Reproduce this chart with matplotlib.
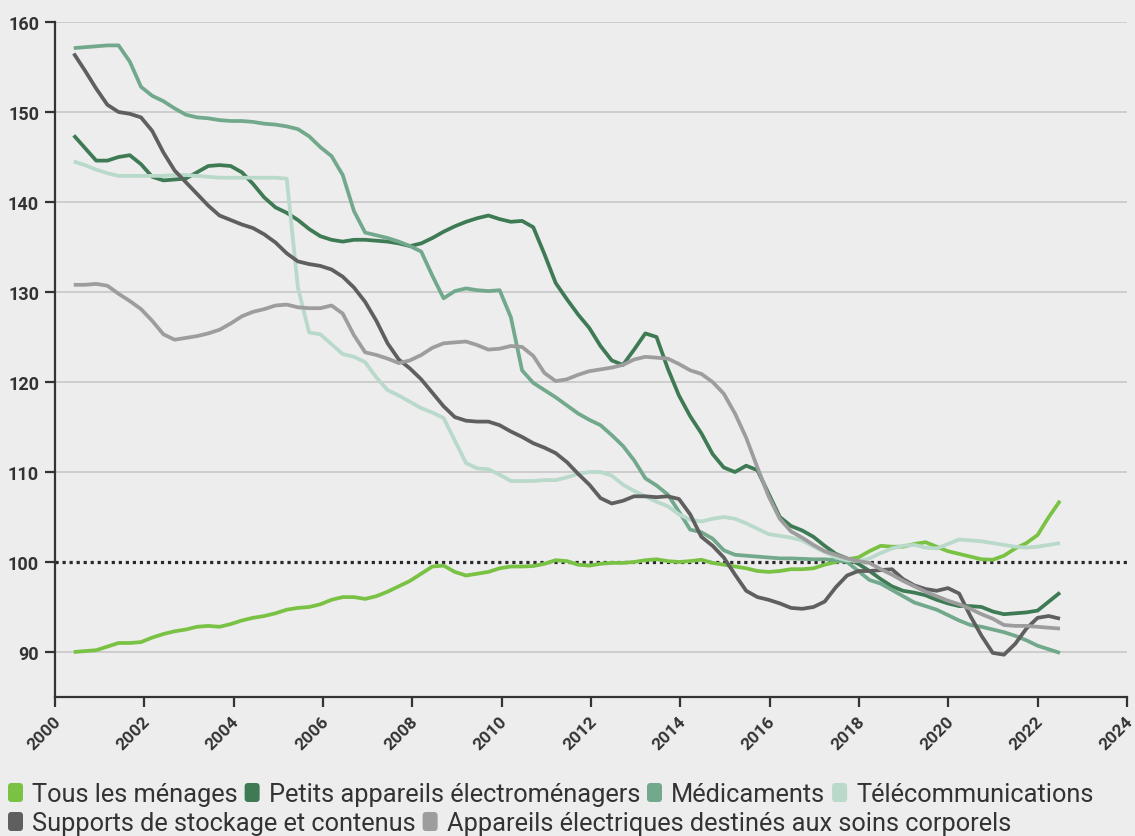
import numpy as np
import matplotlib
matplotlib.use("Agg")
import matplotlib.pyplot as plt
from matplotlib.patches import FancyBboxPatch
from matplotlib.transforms import IdentityTransform, ScaledTranslation

# ---------------- data (quarterly, mid-2000 .. mid-2022) ----------------
years = np.linspace(2000.42, 2022.5, 89)

tous_menages = [
    90.0, 90.1, 90.2, 90.6, 91.0, 91.0, 91.1, 91.6, 92.0, 92.3,
    92.5, 92.8, 92.9, 92.8, 93.1, 93.5, 93.8, 94.0, 94.3, 94.7,
    94.9, 95.0, 95.3, 95.8, 96.1, 96.1, 95.9, 96.2, 96.7, 97.3,
    97.9, 98.7, 99.5, 99.6, 98.9, 98.5, 98.7, 98.9, 99.3, 99.5,
    99.5, 99.55, 99.8, 100.2, 100.1, 99.7, 99.6, 99.8, 99.9, 99.9,
    100.0, 100.2, 100.3, 100.1, 100.0, 100.1, 100.25, 99.9, 99.7, 99.5,
    99.3, 99.0, 98.9, 99.0, 99.2, 99.2, 99.3, 99.7, 100.0, 100.3,
    100.5, 101.2, 101.8, 101.7, 101.7, 102.0, 102.2, 101.7, 101.2, 100.9,
    100.6, 100.3, 100.25, 100.7, 101.5, 102.1, 103.0, 105.0, 106.8]

petits_appareils = [
    147.4, 146.0, 144.6, 144.6, 145.0, 145.2, 144.2, 142.8, 142.4, 142.5,
    142.6, 143.3, 144.0, 144.1, 144.0, 143.3, 142.0, 140.5, 139.4, 138.8,
    138.0, 137.0, 136.2, 135.8, 135.6, 135.8, 135.8, 135.7, 135.6, 135.4,
    135.1, 135.4, 136.0, 136.7, 137.3, 137.8, 138.2, 138.5, 138.1, 137.8,
    137.9, 137.2, 134.2, 131.0, 129.2, 127.5, 126.0, 124.0, 122.4, 121.9,
    123.6, 125.4, 125.0, 121.5, 118.5, 116.2, 114.3, 112.0, 110.5, 110.0,
    110.7, 110.2, 107.6, 105.0, 104.0, 103.5, 102.8, 101.8, 100.9, 100.4,
    99.8, 99.0, 98.1, 97.3, 96.8, 96.6, 96.3, 95.8, 95.4, 95.1,
    95.1, 95.0, 94.5, 94.2, 94.3, 94.4, 94.6, 95.6, 96.6]

medicaments = [
    157.1, 157.2, 157.3, 157.4, 157.4, 155.6, 152.8, 151.8, 151.2, 150.4,
    149.7, 149.4, 149.3, 149.1, 149.0, 149.0, 148.9, 148.7, 148.6, 148.4,
    148.1, 147.3, 146.1, 145.1, 143.0, 139.0, 136.6, 136.3, 136.0, 135.6,
    135.1, 134.5, 131.8, 129.3, 130.1, 130.4, 130.2, 130.1, 130.2, 127.2,
    121.3, 119.9, 119.1, 118.3, 117.4, 116.5, 115.8, 115.2, 114.1, 112.9,
    111.3, 109.3, 108.5, 107.5, 105.6, 103.6, 103.3, 102.6, 101.3, 100.8,
    100.7, 100.6, 100.5, 100.4, 100.4, 100.35, 100.3, 100.3, 100.2, 100.0,
    99.0, 98.0, 97.6, 96.9, 96.2, 95.5, 95.1, 94.7, 94.1, 93.5,
    93.0, 92.8, 92.5, 92.2, 91.8, 91.3, 90.7, 90.3, 89.9]

telecommunications = [
    144.5, 144.1, 143.6, 143.2, 142.9, 142.9, 142.9, 142.9, 142.9, 143.0,
    143.0, 142.9, 142.8, 142.7, 142.7, 142.7, 142.7, 142.7, 142.7, 142.6,
    130.5, 125.5, 125.3, 124.2, 123.1, 122.8, 122.2, 120.5, 119.1, 118.5,
    117.8, 117.1, 116.6, 116.0, 113.5, 111.0, 110.4, 110.3, 109.7, 109.0,
    109.0, 109.0, 109.1, 109.1, 109.4, 109.8, 110.0, 110.0, 109.6, 108.6,
    107.9, 107.3, 106.7, 106.2, 105.3, 104.7, 104.5, 104.8, 105.0, 104.8,
    104.3, 103.7, 103.1, 102.9, 102.7, 102.4, 101.7, 101.1, 100.5, 100.2,
    100.1, 100.4, 101.0, 101.5, 101.8, 101.9, 101.6, 101.5, 102.0, 102.5,
    102.4, 102.3, 102.1, 101.9, 101.7, 101.6, 101.7, 101.9, 102.1]

supports_stockage = [
    156.5, 154.6, 152.6, 150.8, 150.0, 149.8, 149.4, 147.9, 145.5, 143.5,
    142.2, 140.9, 139.6, 138.5, 138.0, 137.5, 137.1, 136.4, 135.5, 134.3,
    133.4, 133.1, 132.9, 132.5, 131.7, 130.5, 128.9, 126.8, 124.3, 122.5,
    121.5, 120.3, 118.8, 117.3, 116.1, 115.7, 115.6, 115.6, 115.2, 114.5,
    113.9, 113.2, 112.7, 112.1, 111.1, 109.8, 108.6, 107.1, 106.5, 106.8,
    107.3, 107.3, 107.2, 107.3, 107.0, 105.3, 102.8, 101.8, 100.5, 98.6,
    96.8, 96.1, 95.8, 95.4, 94.9, 94.8, 95.0, 95.6, 97.2, 98.5,
    99.0, 99.0, 99.1, 99.2, 98.1, 97.4, 97.0, 96.8, 97.1, 96.5,
    94.0, 91.8, 89.9, 89.7, 90.9, 92.6, 93.8, 94.0, 93.7]

appareils_soins = [
    130.8, 130.8, 130.9, 130.7, 129.8, 129.0, 128.1, 126.8, 125.3, 124.7,
    124.9, 125.1, 125.4, 125.8, 126.5, 127.3, 127.8, 128.1, 128.5, 128.6,
    128.3, 128.2, 128.2, 128.5, 127.6, 125.2, 123.3, 123.0, 122.6, 122.1,
    122.4, 123.0, 123.8, 124.3, 124.4, 124.5, 124.1, 123.6, 123.7, 124.0,
    123.9, 122.9, 121.0, 120.1, 120.3, 120.8, 121.2, 121.4, 121.6, 121.9,
    122.5, 122.8, 122.7, 122.6, 122.0, 121.3, 120.9, 120.0, 118.7, 116.5,
    113.8, 110.5, 107.3, 104.8, 103.4, 102.7, 101.9, 101.2, 100.8, 100.4,
    100.1, 99.9, 99.2, 98.6, 97.9, 97.3, 96.7, 96.2, 95.7, 95.3,
    94.8, 94.2, 93.7, 93.0, 92.9, 92.9, 92.8, 92.7, 92.6]

labels = ["Tous les ménages", "Petits appareils électroménagers", "Médicaments",
          "Télécommunications", "Supports de stockage et contenus",
          "Appareils électriques destinés aux soins corporels"]
values = [tous_menages, petits_appareils, medicaments, telecommunications,
          supports_stockage, appareils_soins]
colors = ["#7ac244", "#3e7b55", "#72a98c", "#b9d9ca", "#5f5f5f", "#9d9d9d"]

y_ticks = [90, 100, 110, 120, 130, 140, 150, 160]
x_ticks = list(range(2000, 2025, 2))
reference_level = 100

# ---------------- figure ----------------
W, H = 1135, 837
BG = "#ededed"
TXT = "#333333"
plt.rcParams["font.family"] = ["Roboto", "DejaVu Sans"]

fig = plt.figure(figsize=(W / 100, H / 100), dpi=100, facecolor=BG)
ax = fig.add_axes([55 / W, 1 - 698 / H, (1127 - 55) / W, (698 - 23) / H], facecolor=BG)

for v in y_ticks:
    if v != reference_level:
        ax.axhline(v, color="#cdcdcd", lw=1.4, zorder=1)
ax.axhline(reference_level, color="#2a2a2a", lw=2.3, ls=(0, (1, 1.2)), zorder=2)

for lab, vals, col in zip(labels, values, colors):
    ax.plot(years, vals, color=col, lw=2.7, solid_joinstyle="round",
            solid_capstyle="butt", zorder=3, label=lab)

ax.set_xlim(2000, 2024)
ax.set_ylim(85, 160)
ax.set_yticks(y_ticks)
ax.set_xticks(x_ticks)
ax.set_xticklabels([])
for s in ["top", "right"]:
    ax.spines[s].set_visible(False)
for s in ["left", "bottom"]:
    ax.spines[s].set_color(TXT)
    ax.spines[s].set_linewidth(1.6)
ax.tick_params(axis="both", length=7.5, width=1.6, color=TXT, labelcolor=TXT,
               labelsize=13, pad=4)
for t in ax.get_yticklabels():
    t.set_fontweight("bold")

# rotated x tick labels drawn explicitly
xlab_tr = ax.get_xaxis_transform() + ScaledTranslation(3 / 100, -22 / 100, fig.dpi_scale_trans)
for xt in x_ticks:
    ax.text(xt, 0, str(xt), transform=xlab_tr, rotation=45, rotation_mode="anchor",
            ha="right", va="center", fontsize=12.5, fontweight="bold", color=TXT,
            clip_on=False)

# ---------------- custom flowing legend ----------------
renderer = fig.canvas.get_renderer()
ident = IdentityTransform()
leg_fs = 18.3
line_base = [H - 802, H - 831]   # baselines in display px
hw, hh = 15, 19
x = 8
row = 0
max_x = 1125
for lab, col in zip(labels, colors):
    tmp = fig.text(0, 0, lab, fontsize=leg_fs, transform=ident)
    tw = tmp.get_window_extent(renderer).width
    tmp.remove()
    if x + hw + 9 + tw > max_x:
        row += 1
        x = 8
    base = line_base[row]
    patch = FancyBboxPatch((x + 2, base - 1 + 2), hw - 4, hh - 4,
                           boxstyle="round,pad=2,rounding_size=3.5",
                           transform=ident, facecolor=col, edgecolor="none")
    fig.add_artist(patch)
    fig.text(x + hw + 9, base, lab, fontsize=leg_fs, color=TXT,
             transform=ident, ha="left", va="baseline")
    x = x + hw + 9 + tw + 7

fig.savefig("out.png", dpi=100, facecolor=BG)
